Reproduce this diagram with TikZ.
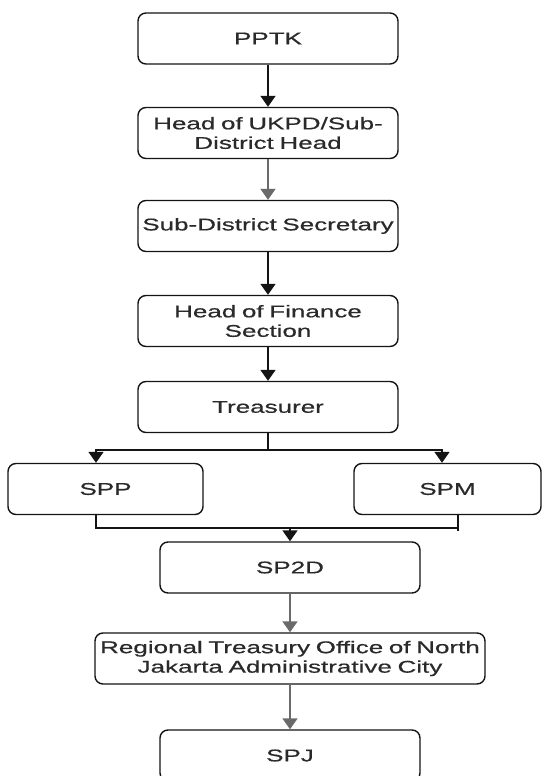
\documentclass[tikz,border=0pt]{standalone}
\usepackage{fontspec}
\setmainfont{Liberation Sans}[FakeStretch=1.53,FakeBold=0.6]
\usetikzlibrary{arrows.meta}
\definecolor{txt}{HTML}{2A2A2A}
\definecolor{ln}{HTML}{141414}
\definecolor{gln}{HTML}{6A6A6A}
\tikzset{
  box/.style={draw=ln, line width=1.4pt, rounded corners=8pt, inner sep=0pt,
    align=center, text=txt, font=\fontsize{17}{19.5}\selectfont,
    minimum height=51pt},
  wide/.style={box, minimum width=260pt, text width=258pt},
  conn/.style={draw=ln, line width=1.7pt, -{Triangle[width=15pt,length=11pt]}},
  gconn/.style={conn, draw=gln},
  plain/.style={draw=ln, line width=1.5pt}
}
\begin{document}
\begin{tikzpicture}[x=1pt,y=-1pt]
\useasboundingbox (0,0) rectangle (544,776);
\node[wide] (pptk) at (268,38.5) {PPTK};
\node[wide] (ukpd) at (268,133) {Head of UKPD/Sub-\\District Head};
\node[wide] (sec) at (268,226) {Sub-District Secretary};
\node[wide] (fin) at (268,321) {Head of Finance\\Section};
\node[wide] (tre) at (268,407) {Treasurer};
\node[box, minimum width=195pt, text width=193pt] (spp) at (105.5,489) {SPP};
\node[box, minimum width=187pt, text width=185pt] (spm) at (447.5,489) {SPM};
\node[box, minimum width=260pt, text width=258pt] (sp2d) at (290,567.5) {SP2D};
\node[box, minimum width=390pt, text width=388pt] (reg) at (290,658.5) {Regional Treasury Office of North\\Jakarta Administrative City};
\node[box, minimum width=260pt, text width=258pt] (spj) at (290,755.5) {SPJ};

\coordinate (split) at (268,450);
\coordinate (join) at (290,528);

\draw[conn] (pptk) -- (ukpd);
\draw[gconn] (ukpd) -- (sec);
\draw[conn] (sec) -- (fin);
\draw[conn] (fin) -- (tre);
\draw[plain] (tre.south) -- (split);
\draw[conn] (split) -| ([xshift=-9.5pt]spp.north);
\draw[conn] (split) -| ([xshift=-5.5pt]spm.north);
\draw[plain] ([xshift=-9.5pt]spp.south) |- ([xshift=10.5pt,yshift=-13pt]spm.south);
\draw[plain] ([xshift=10.5pt]spm.south) -- ++(0,16);
\draw[conn] (join) -- (sp2d);
\draw[gconn] (sp2d) -- (reg);
\draw[gconn] (reg) -- (spj);
\end{tikzpicture}
\end{document}
